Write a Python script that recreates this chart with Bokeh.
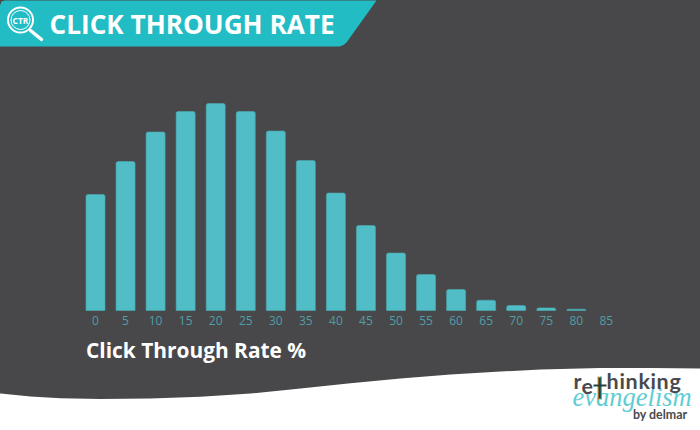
from bokeh.embed import file_html
from bokeh.resources import INLINE
from bokeh.plotting import figure
from bokeh.models import Range1d, LinearAxis, FixedTicker, ColumnDataSource
from bokeh.core.properties import value

# ---- data -------------------------------------------------------------
click_through_rate = [0, 5, 10, 15, 20, 25, 30, 35, 40, 45, 50, 55, 60, 65, 70, 75, 80, 85]
frequency = [116, 149, 178.5, 199, 207, 199, 179.5, 150, 117.5, 85, 57.5, 36, 21, 10.3, 5, 2.6, 1.3, 0]
title_text = "CLICK THROUGH RATE"
axis_text = "Click Through Rate %"

# ---- colours ----------------------------------------------------------
BG = "#48484a"
TEAL = "#22bcc5"
BAR = "#50bdc7"
BAR_EDGE = "#4aa9b3"
TICK = "#4f9fa8"
FONT = value("Open Sans")

W, H = 700, 430
PAD = 2              # the figure overhangs top and left by this much
UNIT = 6.01          # pixels per percentage point
X0, Y0 = 95.0, 310.0  # pixel position of (0, 0)

p = figure(width=W + PAD, height=H + PAD, output_backend="svg", toolbar_location=None,
           x_range=Range1d((-PAD - X0) / UNIT, (W - X0) / UNIT),
           y_range=Range1d(Y0 - H, Y0 + PAD),
           min_border=0, min_border_left=0, min_border_right=0,
           min_border_top=0, min_border_bottom=0,
           background_fill_color=BG, border_fill_color=BG,
           outline_line_color=None, x_axis_location=None, y_axis_location=None)
p.margin = (-PAD, 0, 0, -PAD)
p.grid.visible = False

# page-pixel coordinates for the decoration
p.extra_x_ranges["px"] = Range1d(-PAD, W)
p.extra_y_ranges["px"] = Range1d(H, -PAD)
px = dict(x_range_name="px", y_range_name="px")

# white wave at the bottom
wave_x = [-PAD, 0, 30, 60, 100, 150, 200, 250, 300, 350, 400, 450, 500, 540, 600, 650, 700, 700, -PAD]
wave_y = [392.8, 393, 396, 397.7, 398.5, 398, 396.3, 393, 388, 382.7, 378, 374, 371, 369, 367.5, 367.5, 368, 430, 430]
p.patch(wave_x, wave_y, fill_color="white", line_color=None, **px)

# header banner
ban_x = [4, 376, 346, 343, 339, -PAD, -PAD, 0, 1]
ban_y = [0, 0, 42, 44.5, 46, 46, 4, 4, 1]
p.patch(ban_x, ban_y, fill_color=TEAL, line_color=None, **px)

# magnifier icon
p.circle([20], [19.5], radius=12.5, fill_color=None, line_color="white", line_width=2, **px)
p.circle([20], [19.5], radius=9.5, fill_color=None, line_color="white", line_width=1, **px)
p.segment([30], [30], [41], [39], line_color="white", line_width=3.5, line_cap="round", **px)
p.text([20], [20], text=["CTR"], text_font=FONT, text_font_style="bold", text_font_size="8.5px",
       text_color="white", text_align="center", text_baseline="middle", **px)

# bars (the empty last class has no bar, only its tick label)
src = ColumnDataSource(dict(x=click_through_rate[:-1], top=frequency[:-1]))
p.vbar(x="x", top="top", bottom=0, width=19 / UNIT, source=src, fill_color=BAR,
       line_color=BAR_EDGE, line_width=0.6, border_radius=(2, 2, 0, 0))

# x axis at the bars' baseline
axis = LinearAxis(ticker=FixedTicker(ticks=click_through_rate))
axis.fixed_location = 0
axis.axis_line_color = None
axis.major_tick_line_color = None
axis.minor_tick_line_color = None
axis.major_label_text_color = TICK
axis.major_label_text_font = "Open Sans"
axis.major_label_text_font_size = "12px"
axis.major_label_standoff = -1
p.add_layout(axis, "below")

# texts
p.text([49], [23.5], text=[title_text], text_font=FONT, text_font_style="bold", text_font_size="26.2px",
       text_color="white", text_baseline="middle", **px)
p.text([85.5], [349.5], text=[axis_text], text_font=FONT, text_font_style="bold", text_font_size="20.9px",
       text_color="white", text_baseline="middle", **px)

# logo
LOGO_DARK = "#4a4a4c"
p.text([572], [411], text=["evangelism"], text_font=value("Liberation Serif"), text_font_style="italic",
       text_font_size="26.5px", text_color="#5fcdd4", **px)
logo_letters = list("rehinking")
logo_x = [573, 581, 606, 619, 625, 638, 650, 656, 669]
p.text(logo_x, [393.5] * 9, text=logo_letters, text_font=value("Lato"), text_font_style="bold",
       text_font_size="21.5px", text_color=LOGO_DARK, **px)
p.segment([598], [376], [598], [399], line_color="#d98a2b", line_width=2, **px)
p.segment([600.5], [376], [600.5], [399], line_color="#2fbfc8", line_width=2, **px)
p.segment([599.2], [377], [599.2], [398], line_color="#23403c", line_width=2.2, **px)
p.segment([593], [385], [606], [385], line_color="#23403c", line_width=2, **px)
p.text([632.5], [421], text=["by delmar"], text_font=value("Lato"), text_font_style="bold", text_font_size="12.4px",
       text_color=LOGO_DARK, **px)

open("out.html", "w").write(file_html(p, INLINE))
